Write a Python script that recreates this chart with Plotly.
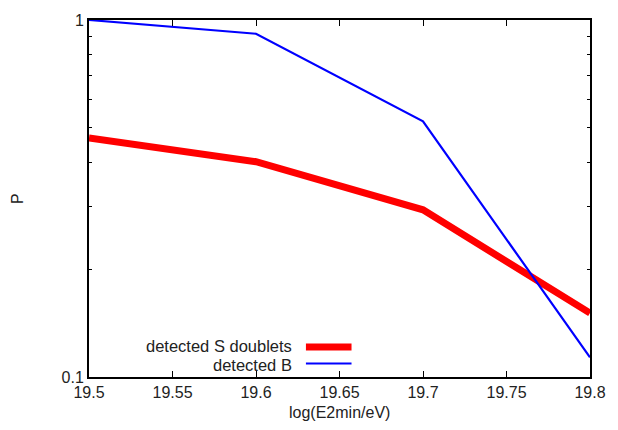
import plotly.graph_objects as go

x_vals = [19.5, 19.6, 19.7, 19.8]
s_doublets = [0.467, 0.401, 0.294, 0.151]
detected_b = [1.0, 0.915, 0.520, 0.1135]
names = ["detected S doublets", "detected B"]
colors = ["#ff0000", "#0000ff"]
widths = [7, 2.2]
x_ticks = [19.5, 19.55, 19.6, 19.65, 19.7, 19.75, 19.8]
x_ticklabels = ["19.5", "19.55", "19.6", "19.65", "19.7", "19.75", "19.8"]
y_ticks = [0.1, 1]
y_ticklabels = ["0.1", "1"]
y_minor = [0.2, 0.3, 0.4, 0.5, 0.6, 0.7, 0.8, 0.9]

FONT = "Liberation Sans, Arial, sans-serif"

fig = go.Figure()
for ys, nm, c, w in zip([s_doublets, detected_b], names, colors, widths):
    fig.add_trace(go.Scatter(x=x_vals, y=ys, mode="lines", name=nm,
                             line=dict(color=c, width=w), showlegend=False))

# manual legend (text right-aligned, sample line on right)
legend_text_y = [0.0875, 0.0340]
legend_line_y = [0.0837, 0.0378]
for ty, ly, nm, c, w in zip(legend_text_y, legend_line_y, names, colors, widths):
    fig.add_annotation(xref="paper", yref="paper", x=0.408, y=ty, text=nm,
                       showarrow=False, xanchor="right", yanchor="middle",
                       borderpad=0,
                       font=dict(family=FONT, size=16.5, color="#222222"))
    fig.add_shape(type="line", xref="paper", yref="paper",
                  x0=0.433, x1=0.524, y0=ly, y1=ly,
                  line=dict(color=c, width=w))

# axis titles
fig.add_annotation(xref="paper", yref="paper", x=0.5, y=0, yshift=-35,
                   text="log(E2min/eV)", showarrow=False,
                   xanchor="center", yanchor="middle",
                   font=dict(family=FONT, size=16, color="#222222"))
fig.add_annotation(xref="paper", yref="paper", x=0, xshift=-71.5, y=0.5,
                   text="P", showarrow=False, textangle=-90,
                   xanchor="center", yanchor="middle",
                   font=dict(family=FONT, size=16, color="#222222"))

fig.update_layout(
    width=618, height=430,
    margin=dict(l=89, r=25, t=15, b=53),
    plot_bgcolor="white", paper_bgcolor="white",
    font=dict(family=FONT, size=16, color="#222222"),
    xaxis=dict(range=[19.5, 19.8], tickvals=x_ticks, ticktext=x_ticklabels,
               ticks="inside", ticklen=6, tickwidth=1, tickcolor="black",
               mirror="allticks", showline=True, linecolor="black", linewidth=2,
               showgrid=False, zeroline=False, tickfont=dict(size=16)),
    yaxis=dict(type="log", range=[-1, 0], tickvals=y_ticks, ticktext=y_ticklabels,
               ticks="inside", ticklen=6, tickwidth=1, tickcolor="black",
               minor=dict(tickvals=y_minor, ticks="inside", ticklen=3,
                          tickcolor="black", showgrid=False),
               mirror="allticks", showline=True, linecolor="black", linewidth=2,
               showgrid=False, zeroline=False, tickfont=dict(size=16)),
)

fig.write_html("out.html")
